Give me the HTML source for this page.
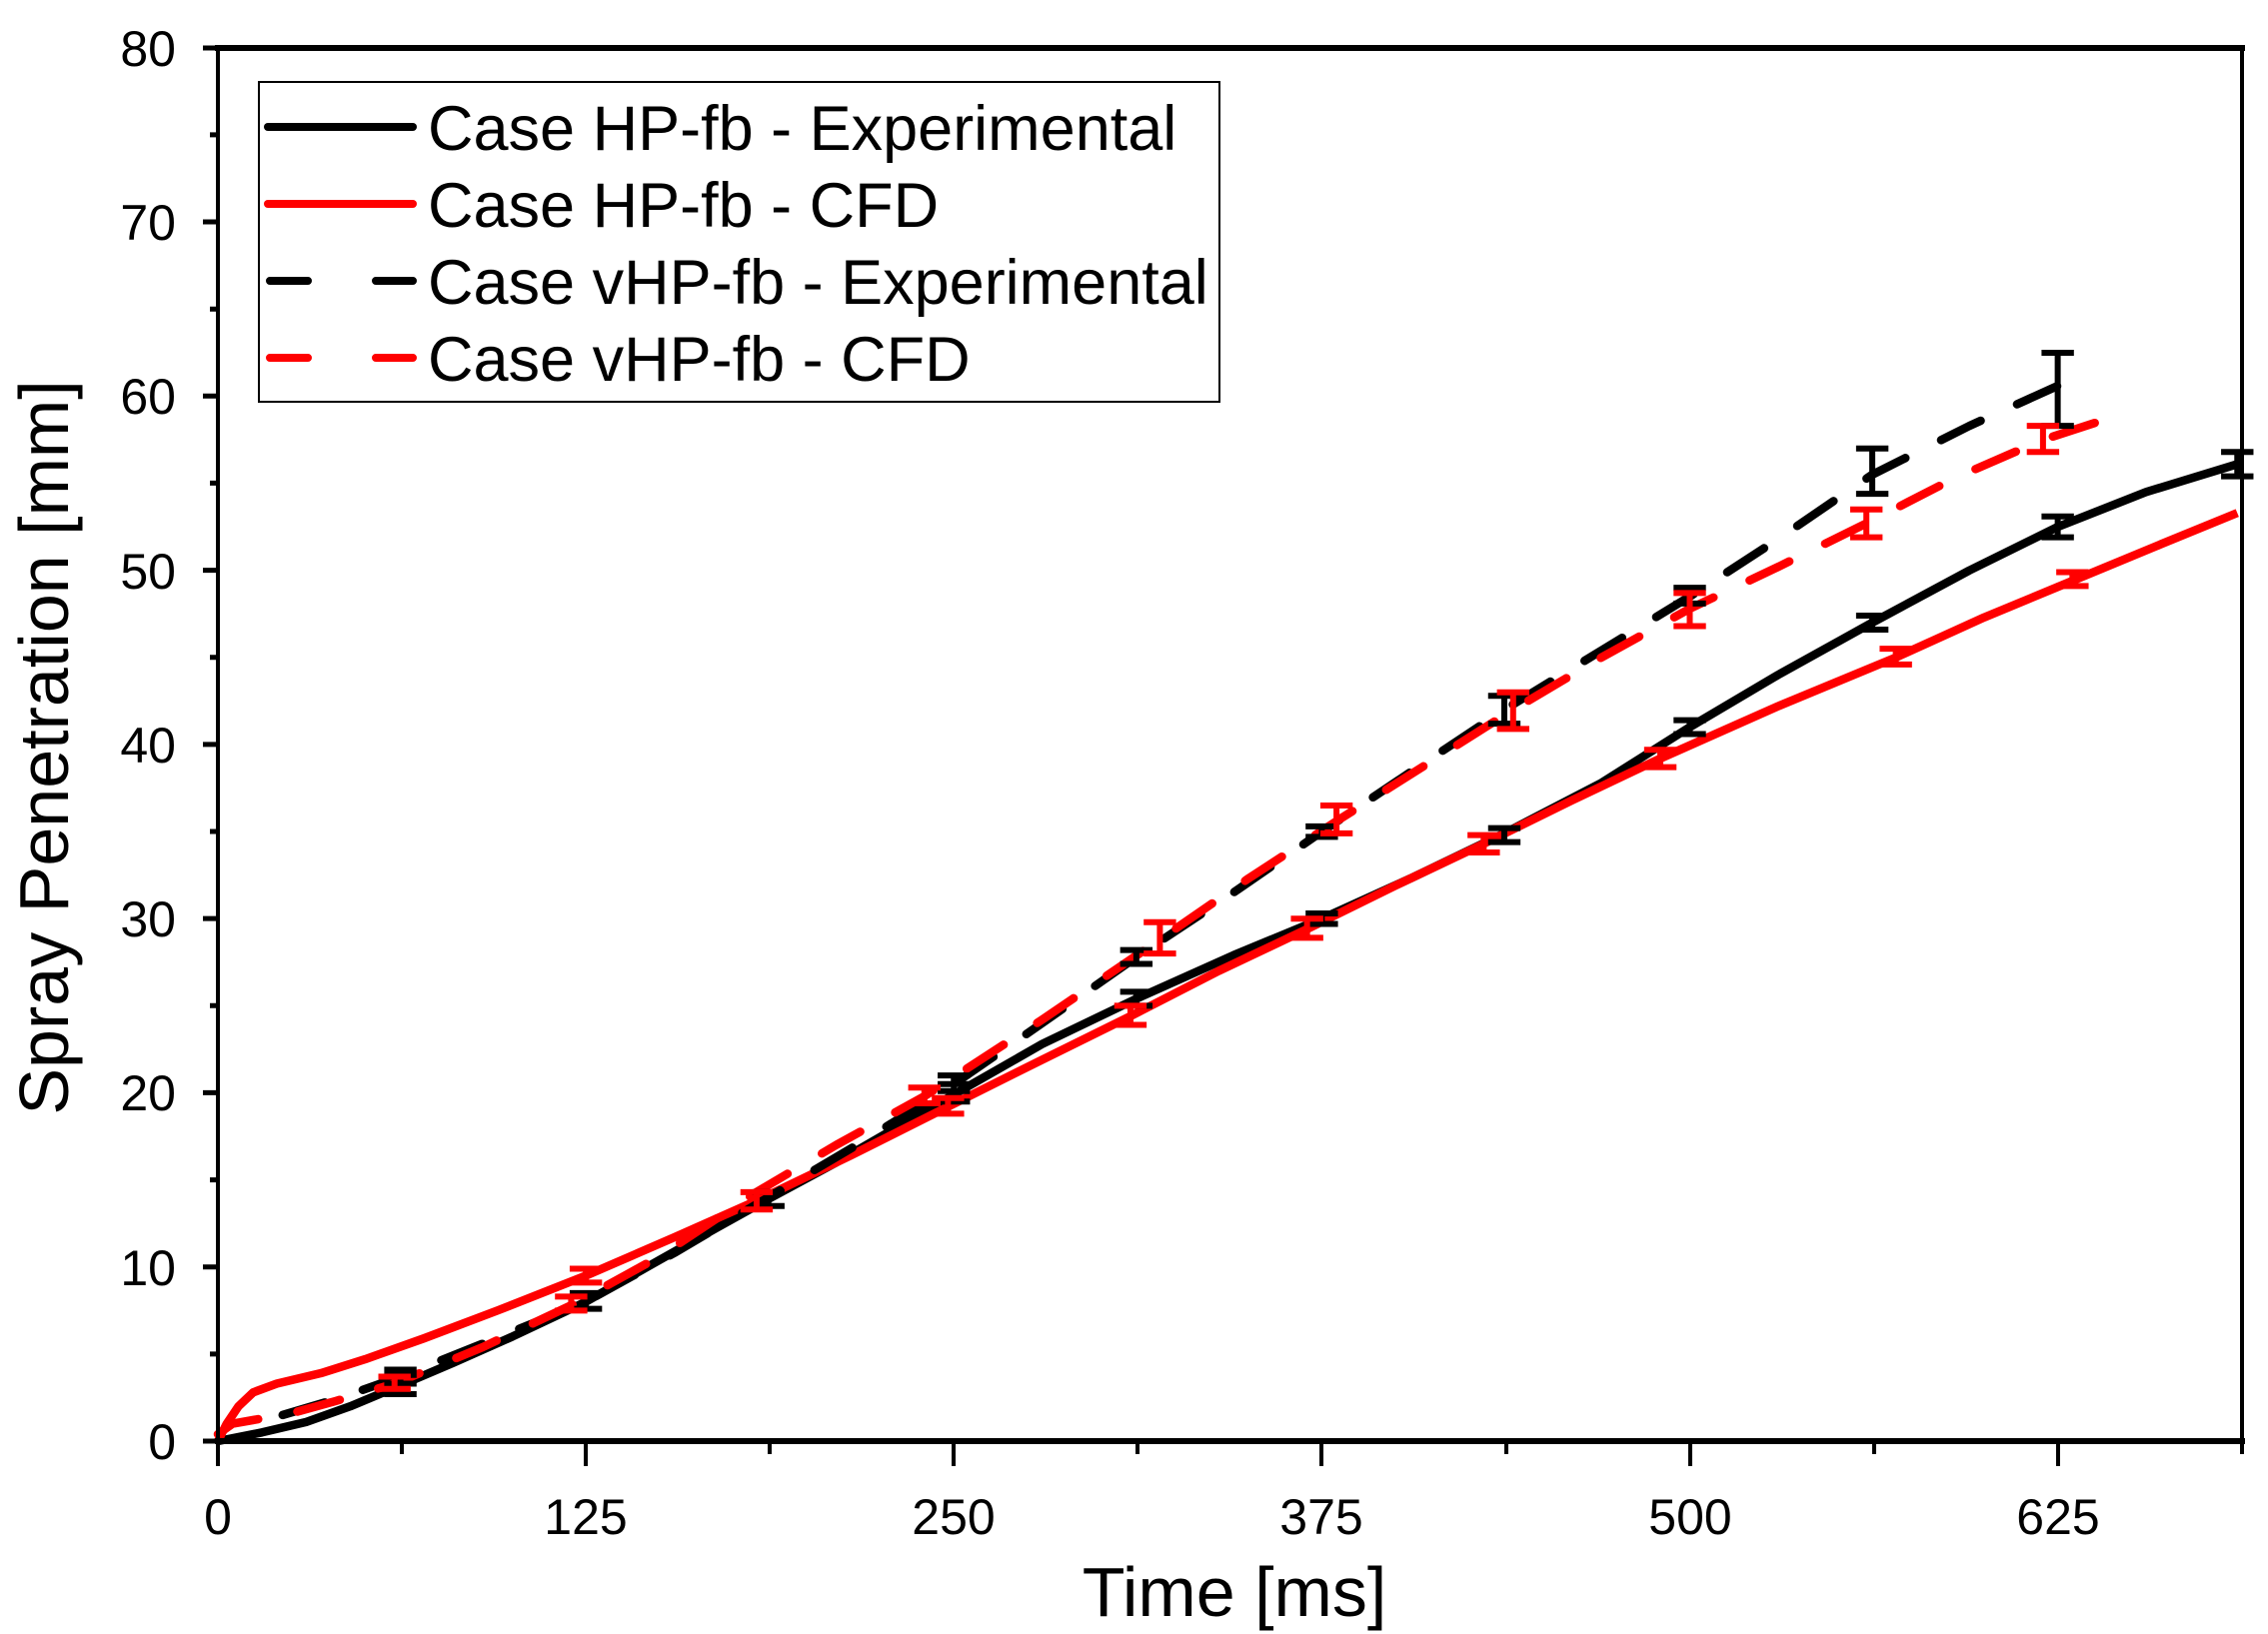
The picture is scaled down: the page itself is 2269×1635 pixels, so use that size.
<!DOCTYPE html>
<html><head><meta charset="utf-8"><style>
html,body{margin:0;padding:0;background:#fff;}
svg{display:block;}
text{font-family:"Liberation Sans",Arial,sans-serif;fill:#000;}
.ns{vector-effect:non-scaling-stroke;fill:none;stroke-linejoin:round;}
</style></head><body>
<svg width="2269" height="1635" viewBox="0 0 2269 1635" xmlns="http://www.w3.org/2000/svg">
<rect width="2269" height="1635" fill="#fff"/>
<g transform="translate(218,1442) scale(2.945,-17.425)">
  <polyline class="ns" stroke="#000" stroke-width="8.5" points="0,0 15,0.5 30,1.1 45,2 62,3.2 80,4.5 100,6 125,8 150,10.4 170,12.3 187,13.9 210,16 250,19.9 280,22.8 312,25.4 345,27.9 375,30 405,32.3 437,34.9 470,37.8 500,41 530,44 562,47 595,50 625,52.5 655,54.5 686,56.1"/>
  <polyline class="ns" stroke="#f00" stroke-width="8.5" points="0,0 3,1 7,2 12,2.8 20,3.3 35,3.9 50,4.7 70,5.9 95,7.5 125,9.5 155,11.7 183,13.8 215,16.4 248,19.2 280,21.9 310,24.4 340,27 370,29.4 400,31.9 430,34.3 460,36.8 490,39.2 530,42.2 570,45 600,47.3 630,49.4 660,51.5 686,53.3"/>
  <polyline class="ns" stroke="#000" stroke-width="8.5" stroke-dasharray="44 40" stroke-linecap="round" points="22,1.5 40,2.4 62,3.7 90,5.6 125,8 155,10.8 187,14 220,17.3 250,20.5 280,24 312,27.8 345,31.5 375,35 405,38.4 437,42 470,45.4 500,48.5 530,51.8 562,55.5 595,58.3 625,60.6"/>
  <polyline class="ns" stroke="#f00" stroke-width="8.5" stroke-dasharray="44 40" stroke-linecap="round" points="0,0.4 5,1 25,1.6 40,2.3 60,3.3 90,5.4 120,7.8 150,10.6 183,14.3 210,17 240,19.8 280,24.2 320,28.8 350,32.3 380,35.6 410,38.8 440,42 470,45 500,47.8 530,50.2 560,52.7 590,55.3 620,57.5 640,58.6"/>
  <path class="ns" stroke="#000" stroke-width="6" d="
  M62,2.7V3.8M56.5,2.7H67.5M56.5,3.8H67.5
  M125,7.6V8.5M119.5,7.6H130.5M119.5,8.5H130.5
  M187,13.5V14.3M181.5,13.5H192.5M181.5,14.3H192.5
  M250,19.5V20.5M244.5,19.5H255.5M244.5,20.5H255.5
  M312,25V25.8M306.5,25H317.5M306.5,25.8H317.5
  M375,29.7V30.3M369.5,29.7H380.5M369.5,30.3H380.5
  M437,34.4V35.2M431.5,34.4H442.5M431.5,35.2H442.5
  M500,40.6V41.4M494.5,40.6H505.5M494.5,41.4H505.5
  M562,46.6V47.4M556.5,46.6H567.5M556.5,47.4H567.5
  M625,51.9V53.1M619.5,51.9H630.5M619.5,53.1H630.5
  M686,55.4V56.8M680.5,55.4H691.5M680.5,56.8H691.5
  M62,3.3V4.1M56.5,3.3H67.5M56.5,4.1H67.5
  M250,20.1V21M244.5,20.1H255.5M244.5,21H255.5
  M312,27.4V28.2M306.5,27.4H317.5M306.5,28.2H317.5
  M375,34.7V35.3M369.5,34.7H380.5M369.5,35.3H380.5
  M437,41.2V42.8M431.5,41.2H442.5M431.5,42.8H442.5
  M500,48.1V49M494.5,48.1H505.5M494.5,49H505.5
  M562,54.4V57M556.5,54.4H567.5M556.5,57H567.5
  M625,58.3V62.5M619.5,58.3H630.5M619.5,62.5H630.5"/>
  <path class="ns" stroke="#f00" stroke-width="6" d="
  M125,9.1V9.9M119.5,9.1H130.5M119.5,9.9H130.5
  M183,13.3V14.3M177.5,13.3H188.5M177.5,14.3H188.5
  M248,18.8V19.7M242.5,18.8H253.5M242.5,19.7H253.5
  M310,23.9V25M304.5,23.9H315.5M304.5,25H315.5
  M370,28.9V30M364.5,28.9H375.5M364.5,30H375.5
  M430,33.8V34.8M424.5,33.8H435.5M424.5,34.8H435.5
  M490,38.7V39.7M484.5,38.7H495.5M484.5,39.7H495.5
  M570,44.6V45.5M564.5,44.6H575.5M564.5,45.5H575.5
  M630,49.1V49.9M624.5,49.1H635.5M624.5,49.9H635.5
  M60,3V3.7M54.5,3H65.5M54.5,3.7H65.5
  M120,7.5V8.3M114.5,7.5H125.5M114.5,8.3H125.5
  M240,19.4V20.3M234.5,19.4H245.5M234.5,20.3H245.5
  M320,28V29.8M314.5,28H325.5M314.5,29.8H325.5
  M380,34.9V36.5M374.5,34.9H385.5M374.5,36.5H385.5
  M440,40.9V43M434.5,40.9H445.5M434.5,43H445.5
  M500,46.8V48.7M494.5,46.8H505.5M494.5,48.7H505.5
  M560,51.9V53.5M554.5,51.9H565.5M554.5,53.5H565.5
  M620,56.8V58.3M614.5,56.8H625.5M614.5,58.3H625.5"/>
</g>
<g stroke="#000" fill="none">
  <line x1="215" y1="48" x2="2246" y2="48" stroke-width="6"/>
  <line x1="215" y1="1442" x2="2246" y2="1442" stroke-width="6"/>
  <line x1="218" y1="48" x2="218" y2="1442" stroke-width="4"/>
  <line x1="2243" y1="48" x2="2243" y2="1442" stroke-width="4"/>
  <path stroke-width="5" d="M203,1442H218M203,1267.7H218M203,1093.4H218M203,919.1H218M203,744.9H218M203,570.6H218M203,396.3H218M203,222H218M203,48H218"/>
  <path stroke-width="5" d="M210,1354.9H218M210,1180.6H218M210,1006.3H218M210,832H218M210,657.7H218M210,483.4H218M210,309.2H218M210,134.9H218"/>
  <path stroke-width="4" d="M218,1442V1467M586,1442V1467M954,1442V1467M1322,1442V1467M1691,1442V1467M2059,1442V1467"/>
  <path stroke-width="4" d="M402,1442V1455M770,1442V1455M1138,1442V1455M1507,1442V1455M1875,1442V1455M2243,1442V1455"/>
</g>
<g font-size="50" text-anchor="end">
  <text x="176" y="1460">0</text>
  <text x="176" y="1286">10</text>
  <text x="176" y="1111">20</text>
  <text x="176" y="937">30</text>
  <text x="176" y="763">40</text>
  <text x="176" y="589">50</text>
  <text x="176" y="414">60</text>
  <text x="176" y="240">70</text>
  <text x="176" y="66">80</text>
</g>
<g font-size="50" text-anchor="middle">
  <text x="218" y="1535">0</text>
  <text x="586" y="1535">125</text>
  <text x="954" y="1535">250</text>
  <text x="1322" y="1535">375</text>
  <text x="1691" y="1535">500</text>
  <text x="2059" y="1535">625</text>
</g>
<text x="1235" y="1617" font-size="70" text-anchor="middle">Time [ms]</text>
<text transform="translate(68,748) rotate(-90)" font-size="70" text-anchor="middle">Spray Penetration [mm]</text>
<rect x="259" y="82" width="961" height="320" fill="#fff" stroke="#000" stroke-width="2"/>
<g stroke-width="8" stroke-linecap="round">
  <line x1="268" y1="127" x2="413" y2="127" stroke="#000"/>
  <line x1="268" y1="204" x2="413" y2="204" stroke="#f00"/>
  <line x1="270" y1="281" x2="413" y2="281" stroke="#000" stroke-dasharray="38 68"/>
  <line x1="270" y1="358" x2="413" y2="358" stroke="#f00" stroke-dasharray="38 68"/>
</g>
<g font-size="63">
  <text x="428" y="150">Case HP-fb - Experimental</text>
  <text x="428" y="227">Case HP-fb - CFD</text>
  <text x="428" y="304">Case vHP-fb - Experimental</text>
  <text x="428" y="381">Case vHP-fb - CFD</text>
</g>
</svg>
</body></html>
